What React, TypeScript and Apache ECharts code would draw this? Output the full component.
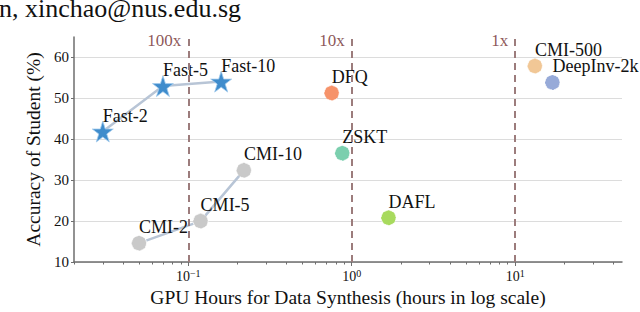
import React, { useEffect, useRef } from "react";
import * as echarts from "echarts";

const fastNames = ["Fast-2", "Fast-5", "Fast-10"];
const fastHours = [0.03, 0.07, 0.159];
const fastAcc = [41.9, 53.0, 54.1];

const cmiNames = ["CMI-2", "CMI-5", "CMI-10"];
const cmiHours = [0.05, 0.119, 0.219];
const cmiAcc = [14.6, 20.0, 32.4];

const otherNames = ["DFQ", "ZSKT", "DAFL", "CMI-500", "DeepInv-2k"];
const otherHours = [0.754, 0.876, 1.68, 13.2, 16.9];
const otherAcc = [51.3, 36.6, 20.8, 57.9, 53.9];
const otherColors = ["#f6936a", "#7bcfae", "#a8da5e", "#f1c796", "#97aad8"];

const speedHours = [0.1, 1, 10];
const speedLabels = ["100x", "10x", "1x"];

const yTicks = [10, 20, 30, 40, 50, 60];
const xTickExponents = [-1, 0, 1];

const X_MIN = 0.02;
const X_MAX = 45;
const Y_MIN = 10;
const Y_MAX = 65;

const FONT = "Liberation Serif";
const STAR =
  "path://M50,2 L61.2,36.3 L97.5,36.3 L68.2,57.6 L79.4,92 L50,70.8 L20.6,92 L31.8,57.6 L2.5,36.3 L38.8,36.3 Z";

const minorTicks: number[] = [];
for (let d = -2; d <= 1; d++) {
  for (let k = 2; k <= 9; k++) {
    const v = Math.log10(k * Math.pow(10, d));
    if (v >= Math.log10(X_MIN) && v <= Math.log10(X_MAX)) minorTicks.push(v);
  }
}

const labelBase = {
  show: true,
  position: "inside" as const,
  align: "left" as const,
  verticalAlign: "middle" as const,
  offset: [0, -16],
  fontSize: 18,
  fontFamily: FONT,
  color: "#111",
};

export default function App() {
  const ref = useRef<HTMLDivElement>(null);
  useEffect(() => {
    if (!ref.current) return;
    const chart = echarts.init(ref.current, undefined, { renderer: "svg" });
    const axisColor = "#6e6e6e";
    const option: any = {
      animation: false,
      backgroundColor: "#fff",
      textStyle: { fontFamily: FONT },
      graphic: [
        {
          type: "text",
          left: -1,
          top: -5,
          style: {
            text: "n, xinchao@nus.edu.sg",
            fontSize: 26,
            fontFamily: FONT,
            fill: "#111",
          },
        },
      ],
      grid: { left: 74, right: 18, top: 37, bottom: 45 },
      xAxis: [
        {
          type: "log",
          logBase: 10,
          min: X_MIN,
          max: X_MAX,
          axisLine: { show: true, onZero: false, lineStyle: { color: axisColor, width: 1.5 } },
          axisTick: { show: false },
          axisLabel: { show: false },
          splitLine: { show: false },
          name: "GPU Hours for Data Synthesis (hours in log scale)",
          nameLocation: "middle",
          nameGap: 25,
          nameTextStyle: { fontFamily: FONT, fontSize: 19.5, color: "#111" },
        },
        {
          type: "value",
          min: Math.log10(X_MIN),
          max: Math.log10(X_MAX),
          position: "bottom",
          axisLine: { show: false, onZero: false },
          axisTick: {
            show: true,
            length: 4,
            customValues: xTickExponents,
            lineStyle: { color: axisColor, width: 1 },
          },
          axisLabel: {
            show: true,
            customValues: xTickExponents,
            margin: 6,
            fontFamily: FONT,
            formatter: (v: number) => `{b|10}{s|${v < 0 ? "\u2212" + -v : v}}`,
            rich: {
              b: { fontSize: 14, fontFamily: FONT, color: "#111" },
              s: { fontSize: 10, fontFamily: FONT, color: "#111", padding: [0, 0, 7, 0] },
            },
          },
          splitLine: { show: false },
        },
        {
          type: "value",
          min: Math.log10(X_MIN),
          max: Math.log10(X_MAX),
          position: "bottom",
          axisLine: { show: false, onZero: false },
          axisTick: {
            show: true,
            length: 2.5,
            customValues: minorTicks,
            lineStyle: { color: axisColor, width: 1 },
          },
          axisLabel: { show: false },
          splitLine: { show: false },
        },
      ],
      yAxis: {
        type: "value",
        min: Y_MIN,
        max: Y_MAX,
        interval: 10,
        axisLine: { show: true, onZero: false, lineStyle: { color: axisColor, width: 1.5 } },
        axisTick: { show: true, length: 3, customValues: yTicks, lineStyle: { color: axisColor } },
        axisLabel: {
          customValues: yTicks,
          fontSize: 15,
          fontFamily: FONT,
          color: "#111",
          margin: 5,
        },
        splitLine: { show: true, lineStyle: { color: "#dcdcdc", width: 1.2 } },
        name: "Accuracy of Student (%)",
        nameLocation: "middle",
        nameGap: 22,
        nameTextStyle: { fontFamily: FONT, fontSize: 19.5, color: "#111" },
      },
      series: [
        {
          type: "scatter",
          xAxisIndex: 0,
          data: speedHours.map((h) => [h, Y_MAX]),
          symbolSize: 0,
          silent: true,
          itemStyle: { color: "transparent" },
          label: {
            show: true,
            position: "inside",
            align: "right",
            verticalAlign: "middle",
            offset: [-7, 3],
            fontSize: 17,
            fontFamily: FONT,
            color: "#6e2b2b",
            formatter: (p: any) => speedLabels[p.dataIndex],
          },
          markLine: {
            silent: true,
            symbol: ["none", "none"],
            label: { show: false },
            lineStyle: { color: "#9c7c7c", type: [7, 5], width: 2, opacity: 1 },
            data: speedHours.map((h) => ({ xAxis: h })),
          },
          z: 1,
        },
        {
          type: "line",
          xAxisIndex: 0,
          data: fastHours.map((h, i) => [h, fastAcc[i]]),
          symbol: STAR,
          symbolSize: 21,
          itemStyle: { color: "#3f8ccc", borderColor: "#a3cbee", borderWidth: 0.8 },
          lineStyle: { color: "#b8c5d6", width: 2.5 },
          label: { ...labelBase, formatter: (p: any) => fastNames[p.dataIndex] },
          silent: true,
          z: 3,
        },
        {
          type: "line",
          xAxisIndex: 0,
          data: cmiHours.map((h, i) => [h, cmiAcc[i]]),
          symbol: "circle",
          symbolSize: 15,
          itemStyle: {
            color: "#c9c9c9",
            borderColor: "rgba(255,255,255,0.8)",
            borderWidth: 1,
            borderType: "dashed",
          },
          lineStyle: { color: "#b8c5d6", width: 2.5 },
          label: { ...labelBase, formatter: (p: any) => cmiNames[p.dataIndex] },
          silent: true,
          z: 3,
        },
        {
          type: "scatter",
          xAxisIndex: 0,
          data: otherHours.map((h, i) => ({
            value: [h, otherAcc[i]],
            itemStyle: { color: otherColors[i] },
          })),
          symbol: "circle",
          symbolSize: 15,
          itemStyle: {
            borderColor: "rgba(255,255,255,0.8)",
            borderWidth: 1,
            borderType: "dashed",
            opacity: 1,
          },
          label: { ...labelBase, formatter: (p: any) => otherNames[p.dataIndex] },
          silent: true,
          z: 3,
        },
      ],
    };
    chart.setOption(option);
    return () => chart.dispose();
  }, []);
  return (
    <div
      ref={ref}
      style={{ position: "fixed", left: 0, top: 0, width: 640, height: 312 }}
    />
  );
}
